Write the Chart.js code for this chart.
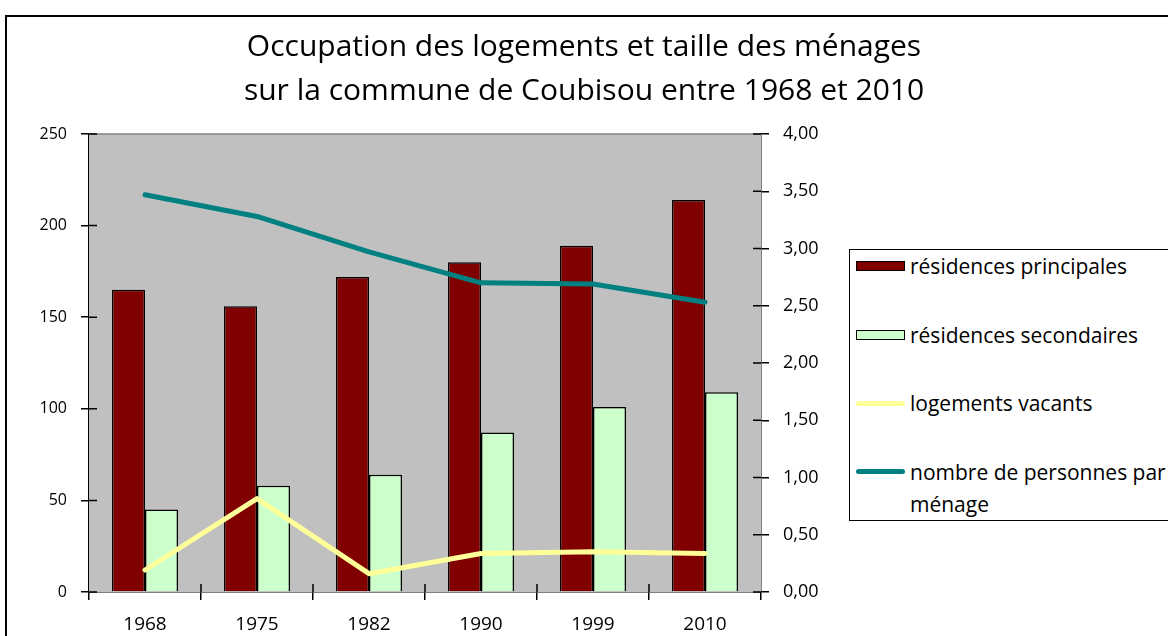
<!DOCTYPE html>
<html>
<head>
<meta charset="utf-8">
<script src="https://cdn.jsdelivr.net/npm/chart.js@4/dist/chart.umd.min.js"></script>
<style>
  html, body { margin: 0; padding: 0; background: #fff; overflow: hidden; }
  #wrap { position: relative; width: 1168px; height: 636px; overflow: hidden; }
  #frame { position: absolute; left: 5px; top: 15px; width: 1300px; height: 800px; border: 2px solid #000; box-sizing: border-box; }
  #myChart { position: absolute; left: 0; top: 0; }
  #legend { position: absolute; left: 849px; top: 249px; width: 400px; height: 272px; border: 1.5px solid #000; background: #fff; box-sizing: border-box; font-family: "Open Sans", sans-serif; font-size: 21px; color: #000; }
  .item { position: absolute; left: 6px; display: flex; align-items: flex-start; }
  .sw { width: 49px; height: 32px; display: flex; align-items: center; margin-right: 5px; }
  .txt { width: 290px; line-height: 32px; white-space: normal; }
</style>
</head>
<body>
<div id="wrap">
  <div id="frame"></div>
  <canvas id="myChart" width="1168" height="636"></canvas>
  <div id="legend"></div>
</div>
<script>
const titre = ["Occupation des logements et taille des ménages", "sur la commune de Coubisou entre 1968 et 2010"];
const annees = ["1968", "1975", "1982", "1990", "1999", "2010"];
const residencesPrincipales = [165, 156, 172, 180, 189, 214];
const residencesSecondaires = [45, 58, 64, 87, 101, 109];
const logementsVacants = [12, 51, 10, 21, 22, 21];
const personnesParMenage = [3.47, 3.28, 2.97, 2.70, 2.69, 2.53];

const police = "'Open Sans', sans-serif";

// fond gris de la zone de tracé + petites graduations vers l'intérieur
const fondGris = {
    id: "fondGris",
    beforeDatasetsDraw(chart) {
        const { ctx, chartArea: a } = chart;
        ctx.save();
        ctx.fillStyle = "#c0c0c0";
        ctx.fillRect(a.left, a.top, a.right - a.left, a.bottom - a.top);
        ctx.strokeStyle = "#808080";
        ctx.lineWidth = 1.5;
        ctx.beginPath();
        ctx.moveTo(a.left, a.top);
        ctx.lineTo(a.right, a.top);
        ctx.stroke();
        ctx.restore();
    },
    afterDraw(chart) {
        const { ctx, scales } = chart;
        ctx.save();
        ctx.strokeStyle = "#000";
        ctx.lineWidth = 1.5;
        ctx.beginPath();
        scales.y.ticks.forEach((t) => {
            const py = scales.y.getPixelForValue(t.value);
            ctx.moveTo(scales.y.right, py);
            ctx.lineTo(scales.y.right + 8, py);
        });
        scales.y1.ticks.forEach((t) => {
            const py = scales.y1.getPixelForValue(t.value);
            ctx.moveTo(scales.y1.left, py);
            ctx.lineTo(scales.y1.left - 8, py);
        });
        const x = scales.x;
        const demi = (x.getPixelForValue(1) - x.getPixelForValue(0)) / 2;
        for (let i = 1; i < annees.length; i++) {
            const px = x.getPixelForValue(i) - demi;
            ctx.moveTo(px, x.top);
            ctx.lineTo(px, x.top - 8);
        }
        ctx.stroke();
        ctx.restore();
    },
};

const ctx = document.getElementById("myChart").getContext("2d");
const myChart = new Chart(ctx, {
    type: "bar",
    data: {
        labels: annees,
        datasets: [
            {
                label: "résidences principales",
                data: residencesPrincipales,
                backgroundColor: "#800000",
                borderColor: "#000",
                borderWidth: 1.5,
                yAxisID: "y",
                order: 2,
            },
            {
                label: "résidences secondaires",
                data: residencesSecondaires,
                backgroundColor: "#ccffcc",
                borderColor: "#000",
                borderWidth: 1.5,
                yAxisID: "y",
                order: 2,
            },
            {
                type: "line",
                label: "logements vacants",
                data: logementsVacants,
                borderColor: "#ffff99",
                borderWidth: 5,
                pointRadius: 0,
                borderCapStyle: "round",
                borderJoinStyle: "round",
                yAxisID: "y",
                order: 1,
            },
            {
                type: "line",
                label: "nombre de personnes par ménage",
                data: personnesParMenage,
                borderColor: "#008080",
                borderWidth: 5,
                pointRadius: 0,
                borderCapStyle: "round",
                borderJoinStyle: "round",
                yAxisID: "y1",
                order: 0,
            },
        ],
    },
    options: {
        responsive: false,
        animation: false,
        categoryPercentage: 0.59,
        barPercentage: 1,
        layout: { padding: { top: 7, left: 0, right: 0, bottom: 0 } },
        plugins: {
            legend: { display: false },
            tooltip: { enabled: false },
            title: {
                display: true,
                text: titre,
                color: "#000",
                font: { family: police, size: 30, weight: "normal", lineHeight: 1.45 },
                padding: { top: 19, bottom: 21 },
            },
        },
        scales: {
            x: {
                grid: { display: true, drawOnChartArea: false, tickLength: 8, color: "#000", lineWidth: 1.5 },
                border: { color: "#000", width: 1.5 },
                ticks: { color: "#000", font: { family: police, size: 19 }, padding: 13 },
                afterFit: (s) => { s.height = 44; },
            },
            y: {
                position: "left",
                min: 0,
                max: 250,
                ticks: { stepSize: 50, color: "#000", font: { family: police, size: 16 }, padding: 14 },
                grid: { drawOnChartArea: false, tickLength: 8, color: "#000", lineWidth: 1.5 },
                border: { color: "#000", width: 1.5 },
                afterFit: (s) => { s.width = 89; },
            },
            y1: {
                position: "right",
                min: 0,
                max: 4,
                ticks: {
                    stepSize: 0.5,
                    color: "#000",
                    font: { family: police, size: 18 },
                    padding: 14,
                    callback: (v) => v.toFixed(2).replace(".", ","),
                },
                grid: { drawOnChartArea: false, tickLength: 8, color: "#000", lineWidth: 1.5 },
                border: { color: "#000", width: 1.5 },
                afterFit: (s) => { s.width = 407; },
            },
        },
    },
    plugins: [fondGris],
});

// légende à droite, construite depuis les jeux de données
const legende = document.getElementById("legend");
myChart.data.datasets.forEach((ds, i) => {
    const item = document.createElement("div");
    item.className = "item";
    item.style.top = (i * 68.5) + "px";
    const sw = document.createElement("div");
    sw.className = "sw";
    const marque = document.createElement("div");
    if (ds.type === "line") {
        marque.style.cssText = "width:49px;height:5px;border-radius:3px;background:" + ds.borderColor;
    } else {
        marque.style.cssText = "width:49px;height:10px;box-sizing:border-box;border:1.5px solid #000;background:" + ds.backgroundColor;
    }
    sw.appendChild(marque);
    const txt = document.createElement("div");
    txt.className = "txt";
    txt.textContent = ds.label;
    item.appendChild(sw);
    item.appendChild(txt);
    legende.appendChild(item);
});
</script>
</body>
</html>
